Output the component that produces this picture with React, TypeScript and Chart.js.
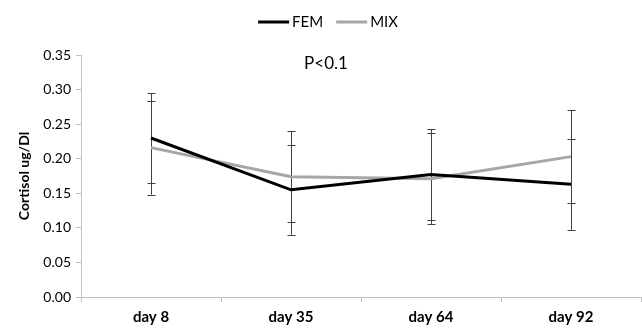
import React, { useEffect, useRef } from "react";
import { Chart, registerables } from "chart.js";

Chart.register(...registerables);

const categories = ["day 8", "day 35", "day 64", "day 92"];
const femValues = [0.23, 0.155, 0.177, 0.163];
const mixValues = [0.216, 0.174, 0.171, 0.203];
const femErrors = [0.065, 0.065, 0.066, 0.066];
const mixErrors = [0.068, 0.066, 0.066, 0.067];
const seriesNames = ["FEM", "MIX"];
const yMin = 0;
const yMax = 0.35;
const yStep = 0.05;
const noteText = "P<0.1";
const noteAt = { x: 1.25, y: 0.338 };

const FONT = "Lato, 'Open Sans', sans-serif";
const COLORS = ["#000000", "#a6a6a6"];
const AXIS = "#bfbfbf";

const errorBarPlugin = {
  id: "errorBars",
  beforeDatasetsDraw(chart: any) {
    const { ctx } = chart;
    const x = chart.scales.x;
    const y = chart.scales.y;
    const errs = [femErrors, mixErrors];
    ctx.save();
    ctx.strokeStyle = "#404040";
    ctx.lineWidth = 1;
    chart.data.datasets.forEach((ds: any, di: number) => {
      ds.data.forEach((v: number, i: number) => {
        const e = errs[di][i];
        const px = Math.round(x.getPixelForValue(i)) + 0.5;
        const top = y.getPixelForValue(v + e);
        const bot = y.getPixelForValue(v - e);
        ctx.beginPath();
        ctx.moveTo(px, top);
        ctx.lineTo(px, bot);
        [top, bot].forEach((yy) => {
          const r = Math.round(yy) + 0.5;
          ctx.moveTo(px - 4, r);
          ctx.lineTo(px + 4, r);
        });
        ctx.stroke();
      });
    });
    ctx.restore();
  },
};

const extrasPlugin = {
  id: "extras",
  afterDraw(chart: any) {
    const { ctx } = chart;
    ctx.save();
    // annotation
    ctx.fillStyle = "#000";
    ctx.font = `17px ${FONT}`;
    ctx.textAlign = "center";
    ctx.textBaseline = "middle";
    ctx.fillText(noteText, chart.scales.x.getPixelForValue(noteAt.x), chart.scales.y.getPixelForValue(noteAt.y));
    // legend
    ctx.font = `15px ${FONT}`;
    ctx.textAlign = "left";
    const lineW = 31;
    const gap = 3;
    const itemGap = 13;
    const widths = seriesNames.map((n) => lineW + gap + ctx.measureText(n).width);
    const total = widths.reduce((a, b) => a + b, 0) + itemGap * (seriesNames.length - 1);
    let cx = chart.width * 0.511 - total / 2;
    const cy = 22;
    seriesNames.forEach((n, i) => {
      ctx.strokeStyle = COLORS[i];
      ctx.lineWidth = 3;
      ctx.beginPath();
      ctx.moveTo(cx, cy);
      ctx.lineTo(cx + lineW, cy);
      ctx.stroke();
      ctx.fillStyle = "#000";
      ctx.fillText(n, cx + lineW + gap, cy);
      cx += widths[i] + itemGap;
    });
    ctx.restore();
  },
};

export default function App() {
  const ref = useRef<HTMLCanvasElement>(null);
  useEffect(() => {
    if (!ref.current) return;
    const chart = new Chart(ref.current, {
      type: "line",
      data: {
        labels: categories,
        datasets: [
          {
            label: seriesNames[0],
            data: femValues,
            borderColor: COLORS[0],
            backgroundColor: COLORS[0],
            borderWidth: 3,
            pointRadius: 0,
            tension: 0,
          },
          {
            label: seriesNames[1],
            data: mixValues,
            borderColor: COLORS[1],
            backgroundColor: COLORS[1],
            borderWidth: 3,
            pointRadius: 0,
            tension: 0,
          },
        ],
      },
      options: {
        responsive: false,
        animation: false,
        layout: { padding: { top: 55, right: 1, left: 0, bottom: 0 } },
        plugins: {
          legend: { display: false },
          tooltip: { enabled: false },
        },
        scales: {
          x: {
            offset: true,
            grid: {
              offset: true,
              drawOnChartArea: false,
              color: AXIS,
              tickLength: 5,
            },
            border: { color: AXIS, width: 1 },
            ticks: {
              color: "#000",
              font: { family: FONT, size: 15, weight: "bold" },
              padding: 6,
              maxRotation: 0,
            },
            afterFit(scale: any) {
              scale.height = 31;
            },
          },
          y: {
            min: yMin,
            max: yMax,
            grid: {
              drawOnChartArea: false,
              color: AXIS,
              tickLength: 5,
            },
            border: { color: AXIS, width: 1 },
            ticks: {
              stepSize: yStep,
              color: "#000",
              font: { family: FONT, size: 14 },
              padding: 5,
              callback: (v: any) => Number(v).toFixed(2),
            },
            title: {
              display: true,
              text: "Cortisol ug/Dl",
              color: "#000",
              font: { family: FONT, size: 14, weight: "bold" },
              padding: { top: 16, bottom: 0 },
            },
            afterFit(scale: any) {
              scale.width = 81;
            },
          },
        },
      },
      plugins: [errorBarPlugin, extrasPlugin],
    });
    return () => chart.destroy();
  }, []);
  return (
    <div style={{ position: "fixed", left: 0, top: 0, width: 642, height: 328, background: "#fff" }}>
      <canvas ref={ref} width={642} height={328} />
    </div>
  );
}
